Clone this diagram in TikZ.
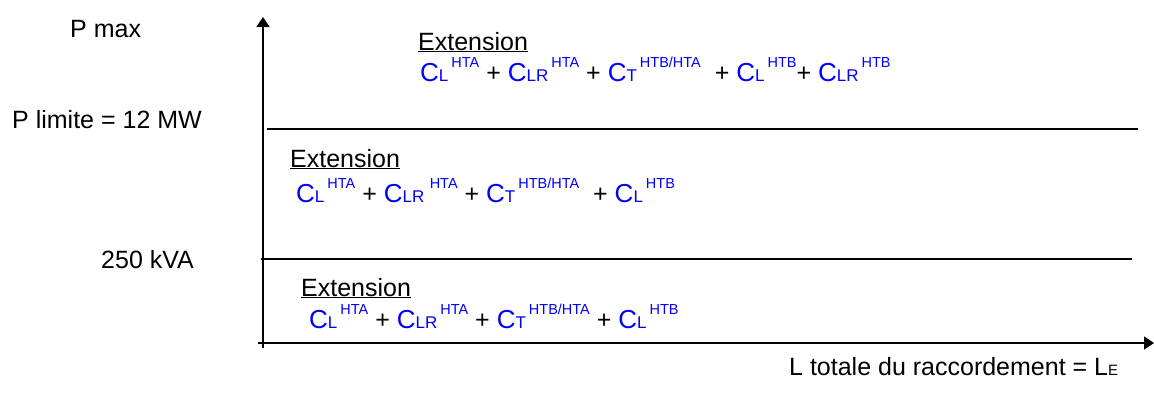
\documentclass[tikz,border=0pt]{standalone}
\usepackage{fontspec}
\setmainfont{Liberation Sans}
\usetikzlibrary{arrows.meta}
\definecolor{cblue}{RGB}{0,0,255}
\newcommand\ct[2]{{\color{cblue}\fontsize{26}{28}\selectfont C\fontsize{17}{17}\selectfont#1\kern3pt\raisebox{14pt}{\fontsize{14.5}{14.5}\selectfont#2}}}
\newcommand\ext{\underline{Extension}}
\begin{document}
\begin{tikzpicture}[x=1pt,y=-1pt,
  lbl/.style={anchor=base west,inner sep=0pt,font=\fontsize{25}{28}\selectfont},
  axis/.style={line width=1.8pt,-{Triangle[length=10pt,width=13pt]}},
  level/.style={line width=1.8pt}]
\useasboundingbox (0,0) rectangle (1154,392);
% axes
\coordinate (o1) at (263,348);
\coordinate (ytop) at (263,17);
\coordinate (o2) at (258,343);
\coordinate (xend) at (1154,343);
\draw[axis] (o1) -- (ytop);
\draw[axis] (o2) -- (xend);
% levels
\coordinate (a1) at (267,129);
\coordinate (a2) at (1138,129);
\coordinate (b1) at (261,259);
\coordinate (b2) at (1132,259);
\draw[level] (a1) -- (a2);
\draw[level] (b1) -- (b2);
% y labels
\node[lbl] (pmax) at (70,37) {P max};
\node[lbl] (plim) at (12,128) {P limite = 12 MW};
\node[lbl] (kva) at (101,268) {250 kVA};
% regions
\node[lbl] (e1) at (418,50) {\ext};
\node[lbl] (f1) at (420,81) {\ct{L}{HTA} + \ct{LR}{HTA} + \ct{T}{HTB/HTA}\ \ + \ct{L}{HTB}+ \ct{LR}{HTB}};
\node[lbl] (e2) at (290,167) {\ext};
\node[lbl] (f2) at (296,202) {\ct{L}{HTA} + \ct{LR}{\,HTA} + \ct{T}{HTB/HTA}\ \ + \ct{L}{HTB}};
\node[lbl] (e3) at (301,296) {\ext};
\node[lbl] (f3) at (309,328) {\ct{L}{HTA} + \ct{LR}{HTA} + \ct{T}{HTB/HTA} + \ct{L}{HTB}};
% x label
\node[lbl] (xl) at (789,375) {L totale du raccordement = L{\fontsize{15}{15}\selectfont E}};
\end{tikzpicture}
\end{document}
